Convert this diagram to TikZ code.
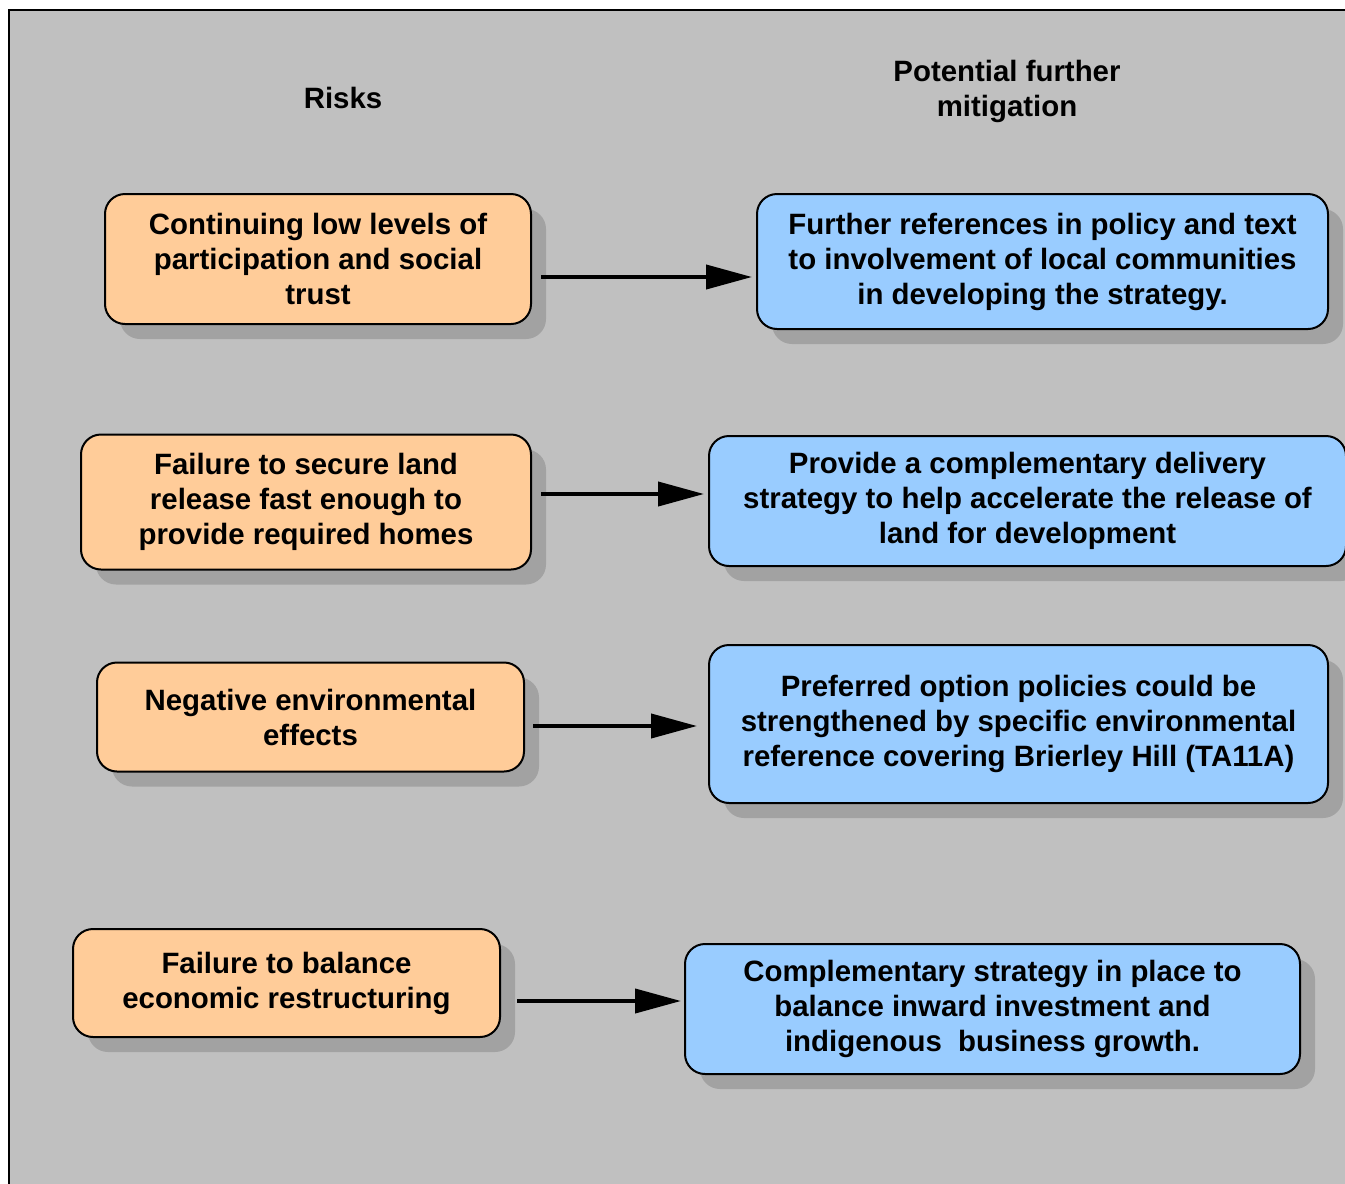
\documentclass[tikz,border=0pt]{standalone}
\usepackage{fontspec}
\setmainfont{Liberation Sans}
\usepackage{xcolor}
\usetikzlibrary{shadows,arrows.meta}

\definecolor{panelgray}{HTML}{C0C0C0}
\definecolor{riskorange}{HTML}{FFCC99}
\definecolor{mitblue}{HTML}{99CCFF}
\definecolor{shadowgray}{HTML}{A2A2A2}

\tikzset{
    box/.style={draw, line width=1pt, rounded corners=10pt, align=center,
        font=\fontsize{14.7}{17.5}\selectfont\bfseries, inner sep=2pt,
        drop shadow={shadow xshift=7.5pt, shadow yshift=-7.5pt, fill=shadowgray, opacity=1}},
    risk/.style={box, fill=riskorange},
    mitigation/.style={box, fill=mitblue},
    heading/.style={align=center, font=\fontsize{14.7}{17.5}\selectfont\bfseries},
    link/.style={line width=2pt, -{Triangle[length=23pt,width=12pt]}}
}

\begin{document}
\begin{tikzpicture}[x=0.5pt, y=-0.5pt]
        \useasboundingbox (0,0) rectangle (1345,1184);
        % Panel
        \fill[white] (0,0) rectangle (1345,1184);
        \fill[panelgray] (9,10) rectangle (1345,1184);
        \draw[line width=1pt] (9,1184) -- (9,10) -- (1345,10);
        
        % Headings
        \node[heading] (risks) at (343,98) {Risks};
        \node[heading] (further) at (1007,91) {Potential further\\mitigation};
        
        % Risks
        \node[risk, minimum width=213pt, minimum height=65pt] (r1) at (318,259)
            {Continuing low levels of\\participation and social\\trust};
        \node[risk, minimum width=225pt, minimum height=67.5pt] (r2) at (306,502)
            {Failure to secure land\\release fast enough to\\provide required homes};
        \node[risk, minimum width=213.5pt, minimum height=54.5pt] (r3) at (310.5,717)
            {Negative environmental\\effects};
        \node[risk, minimum width=213.5pt, minimum height=54pt] (r4) at (286.5,983)
            {Failure to balance\\economic restructuring};
        
        % Mitigation
        \node[mitigation, minimum width=285.5pt, minimum height=67.5pt] (m1) at (1042.5,261.5)
            {Further references in policy and text\\to involvement of local communities\\in developing the strategy.};
        \node[mitigation, minimum width=318.5pt, minimum height=65pt] (m2) at (1027.5,501)
            {Provide a complementary delivery\\strategy to help accelerate the release of\\land for development};
        \node[mitigation, minimum width=309.5pt, minimum height=79pt] (m3) at (1018.5,724)
            {Preferred option policies could be\\strengthened by specific environmental\\reference covering Brierley Hill (TA11A)};
        \node[mitigation, minimum width=307.5pt, minimum height=65pt] (m4) at (992.5,1009)
            {Complementary strategy in place to\\balance inward investment and\\indigenous\ \ business growth.};
        
        % Connections
        \draw[link] ([shift={(9,18)}]r1.east) -- ([shift={(-4,15.5)}]m1.west);
        \draw[link] ([shift={(9,-8)}]r2.east) -- ([shift={(-4,-7)}]m2.west);
        \draw[link] ([shift={(8,9)}]r3.east) -- ([shift={(-11,2)}]m3.west);
        \draw[link] ([shift={(16,18)}]r4.east) -- ([shift={(-3,-8)}]m4.west);
    \end{tikzpicture}
\end{document}
